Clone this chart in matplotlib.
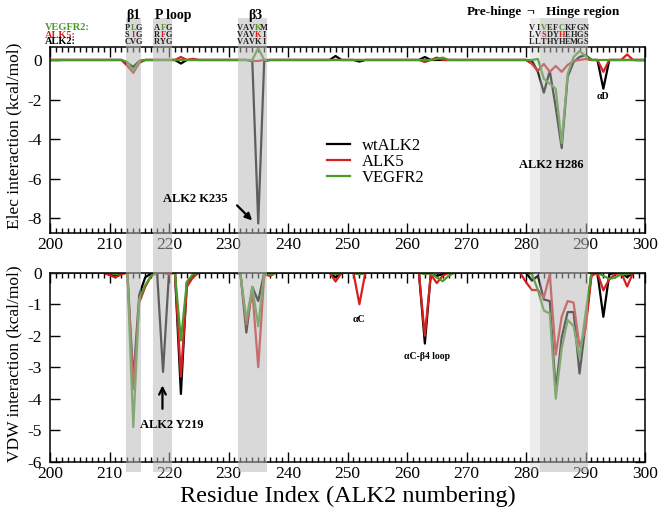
import numpy as np
import matplotlib
matplotlib.use('Agg')
import matplotlib.pyplot as plt
from matplotlib.patches import Rectangle, FancyArrowPatch
from matplotlib.transforms import blended_transform_factory
from matplotlib.ticker import MultipleLocator

plt.rcParams['font.family'] = ['Liberation Serif', 'DejaVu Serif']
plt.rcParams['axes.unicode_minus'] = False

# residue range
residues = np.arange(200, 301)

# Elec interaction, only residues that differ from 0
elec_res = [213, 214, 215, 222, 224, 234, 235, 236, 248, 252, 263, 265, 266,
            281, 282, 283, 284, 285, 286, 287, 288, 289, 290, 293, 297]
elec_wt = [-0.15, -0.35, -0.05, -0.18, 0.0, -0.05, -8.25, -0.05, 0.2, -0.08, 0.15, 0.0, 0.0,
           -0.05, -0.6, -1.65, -0.55, -2.4, -4.45, -0.85, -0.1, 0.15, 0.25, -1.45, 0.0]
elec_alk5 = [-0.3, -0.65, -0.15, 0.15, 0.06, -0.05, -0.05, 0.0, 0.0, 0.0, -0.1, 0.12, 0.0,
             -0.2, -0.55, -0.2, -0.6, -0.3, -0.6, -0.25, -0.05, 0.0, 0.05, -0.6, 0.28]
elec_vegfr2 = [-0.1, -0.55, -0.05, 0.0, 0.0, 0.0, 0.6, 0.0, 0.0, 0.0, 0.0, 0.05, 0.12,
               0.0, 0.05, -0.95, -1.2, -1.45, -4.2, -0.7, 0.15, 0.45, 0.2, 0.0, 0.0]

# VDW interaction, only residues that differ from 0
vdw_res = [210, 211, 212, 214, 215, 216, 217, 219, 220, 222, 223, 224,
           232, 233, 234, 235, 236, 237, 248, 252, 263, 264, 265, 266, 267,
           280, 281, 282, 283, 284, 285, 286, 287, 288, 289, 290, 291,
           293, 294, 295, 296, 297]
vdw_wt = [-0.05, -0.1, 0.0, -3.4, -0.7, -0.15, -0.02, -3.15, 0.0, -3.85, -0.3, -0.1,
          0.0, -1.9, -0.45, -0.9, 0.0, 0.0, -0.15, -0.05, -2.25, -0.05, -0.1, -0.05, 0.0,
          0.0, -0.25, -0.1, -0.85, -0.9, -3.75, -2.05, -1.25, -1.25, -3.2, -1.65, 0.0,
          -1.4, -0.05, 0.0, 0.0, -0.14]
vdw_alk5 = [-0.08, -0.15, -0.05, -3.7, -0.95, -0.45, -0.1, 0.0, -0.05, -3.3, -0.45, -0.15,
            0.0, -1.65, -0.55, -3.0, -0.05, -0.1, -0.28, -1.0, -2.0, -0.05, -0.33, -0.1, 0.0,
            -0.3, -0.55, -0.55, -0.8, -0.05, -2.6, -1.4, -0.9, -0.95, -2.35, -1.8, -0.1,
            -0.56, -0.2, -0.05, 0.0, -0.44]
vdw_vegfr2 = [0.0, -0.05, 0.0, -4.9, -0.85, -0.4, -0.1, 0.0, 0.0, -2.15, -0.3, -0.05,
              -0.05, -1.5, -0.45, -1.7, 0.0, -0.05, -0.05, -0.05, -0.05, -0.02, -0.15, -0.27, -0.1,
              0.0, -0.05, -0.55, -1.2, -1.3, -4.0, -2.4, -1.5, -1.7, -2.7, -1.3, 0.0,
              -0.1, -0.2, -0.15, -0.05, -0.05]

series_names = ['wtALK2', 'ALK5', 'VEGFR2']
colors = ['black', '#d62020', '#4c9a2a']

# shaded regions
band_lo = [212.7, 217.3, 231.6, 282.4]
band_hi = [215.3, 220.5, 236.4, 290.4]
prehinge = (280.7, 282.4)

# sequences shown above bands
seq_start = [213, 218, 232, 281]
seq_vegfr2 = ['PLG', 'AFG', 'VAVKM', 'VIVEFCKFGN']
seq_alk5 = ['SIG', 'RFG', 'VAVKI', 'LVSDYHEHGS']
seq_alk2 = ['CVG', 'RYG', 'VAVKI', 'LLTHYHEMGS']
hl_vegfr2 = [[1], [1], [3], [2, 5]]
hl_alk5 = [[1], [1], [3], [2, 5]]


def full(res, vals):
    arr = np.zeros(len(residues))
    for r, v in zip(res, vals):
        arr[r - 200] = v
    return arr


W, H = 666, 514
fig = plt.figure(figsize=(W / 100, H / 100), dpi=100)
ax1 = fig.add_axes([50 / W, 1 - 232.7 / H, 595 / W, 186 / H])
ax2 = fig.add_axes([50 / W, 1 - 461.7 / H, 595 / W, 189 / H])

for ax, res, data in [(ax1, elec_res, [elec_wt, elec_alk5, elec_vegfr2]),
                      (ax2, vdw_res, [vdw_wt, vdw_alk5, vdw_vegfr2])]:
    for name, c, vals in zip(series_names, colors, data):
        ax.plot(residues, full(res, vals), color=c, lw=1.6, label=name)
    ax.set_xlim(200, 300)
    ax.xaxis.set_major_locator(MultipleLocator(10))
    ax.xaxis.set_minor_locator(MultipleLocator(1))
    ax.tick_params(which='both', direction='in', top=True, right=True,
                   labelsize=12.5, width=1.0)
    ax.tick_params(which='major', length=7)
    ax.tick_params(which='minor', length=3.6)
    ax.tick_params(axis='x', pad=3)
    ax.tick_params(axis='y', pad=6)
    ax.set_facecolor('none')
    for s in ax.spines.values():
        s.set_linewidth(1.1)

ax1.set_ylim(-8.72, 0.67)
ax1.set_yticks([0, -2, -4, -6, -8])
ax1.yaxis.set_minor_locator(MultipleLocator(100))
ax2.set_ylim(-6, 0)
ax2.set_yticks([0, -1, -2, -3, -4, -5, -6])
ax2.yaxis.set_minor_locator(MultipleLocator(100))

ax1.set_ylabel('Elec interaction (kcal/mol)', fontsize=12.5)
ax2.set_ylabel('VDW interaction (kcal/mol)', fontsize=12.5)
ax1.yaxis.set_label_coords(-0.047, 0.52)
ax2.yaxis.set_label_coords(-0.047, 0.52)
ax2.set_xlabel('Residue Index (ALK2 numbering)', fontsize=17.5)
ax2.xaxis.set_label_coords(0.5, -0.125)

ax1.legend(loc='upper left', bbox_to_anchor=(327 / W, 1 - 138 / H),
           bbox_transform=fig.transFigure, frameon=False, fontsize=12,
           handlelength=1.4, handletextpad=0.7, labelspacing=0.0, borderpad=0,
           borderaxespad=0)

# grey bands over both panels
tr = blended_transform_factory(ax1.transData, fig.transFigure)
y0, y1 = 1 - 472 / H, 1 - 18 / H
for lo, hi in zip(band_lo, band_hi):
    fig.add_artist(Rectangle((lo, y0), hi - lo, y1 - y0, transform=tr,
                             color=(0.714, 0.714, 0.714), alpha=0.52, lw=0, zorder=2))
fig.add_artist(Rectangle((prehinge[0], y0), prehinge[1] - prehinge[0], y1 - y0,
                         transform=tr, color=(0.714, 0.714, 0.714), alpha=0.25,
                         lw=0, zorder=2))

# sequence rows
rows = [(seq_vegfr2, hl_vegfr2, colors[2], 'VEGFR2:', 28),
        (seq_alk5, hl_alk5, colors[1], 'ALK5:', 35),
        (seq_alk2, [[]] * 4, 'black', 'ALK2:', 42)]
for seqs, hls, hc, lab, ypx in rows:
    fig.text(45 / W, 1 - ypx / H, lab, color=hc, fontsize=7.5,
             fontweight='bold', va='center', ha='left', zorder=4)
    for st, s, hl in zip(seq_start, seqs, hls):
        for i, ch in enumerate(s):
            fig.text(st + i, 1 - ypx / H, ch, transform=tr, fontsize=6,
                     fontweight='bold', color=hc if i in hl else '#222222',
                     ha='center', va='center', zorder=4)

# region titles
title_kw = dict(transform=tr, fontweight='bold', ha='center', va='center', zorder=4)
fig.text(214, 1 - 15 / H, 'β1', fontsize=10, **title_kw)
fig.text(220.7, 1 - 15 / H, 'P loop', fontsize=10, **title_kw)
fig.text(234.5, 1 - 15 / H, 'β3', fontsize=10, **title_kw)
fig.text(274.6, 1 - 12 / H, 'Pre-hinge', fontsize=9.5, **title_kw)
fig.text(280.7, 1 - 12 / H, '¬', fontsize=10, **title_kw)
fig.text(289.5, 1 - 12 / H, 'Hinge region', fontsize=9.5, **title_kw)

# annotations drawn above the bands
ann_kw = dict(fontweight='bold', ha='center', va='center', zorder=5)
fig.add_artist(FancyArrowPatch((231.1, -7.24), (234.3, -8.2), transform=ax1.transData,
                               arrowstyle='-|>', color='black', lw=1.6,
                               mutation_scale=10, zorder=5))
fig.text(224.4, -7.0, 'ALK2 K235', transform=ax1.transData, fontsize=9, **ann_kw)
fig.text(284.3, -5.3, 'ALK2 H286', transform=ax1.transData, fontsize=9, **ann_kw)
fig.text(292.9, -1.85, 'αD', transform=ax1.transData, fontsize=7, **ann_kw)
fig.add_artist(FancyArrowPatch((218.9, -4.41), (218.9, -3.49), transform=ax2.transData,
                               arrowstyle='->', color='black', lw=1.6,
                               mutation_scale=12, zorder=5))
fig.text(220.4, -4.83, 'ALK2 Y219', transform=ax2.transData, fontsize=9, **ann_kw)
fig.text(252, -1.5, 'αC', transform=ax2.transData, fontsize=7, **ann_kw)
fig.text(263.3, -2.67, 'αC-β4 loop', transform=ax2.transData, fontsize=7, **ann_kw)

fig.savefig('out.png', dpi=100)
